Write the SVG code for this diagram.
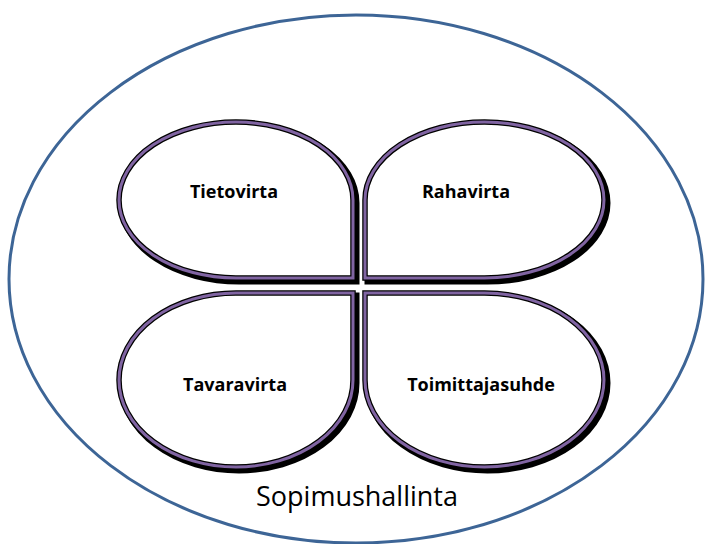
<svg xmlns="http://www.w3.org/2000/svg" width="706" height="544" viewBox="0 0 706 544">
<style>
.sh{fill:none;stroke:#000;stroke-width:7;stroke-linejoin:miter}
.ol{fill:#fff;stroke:#000;stroke-width:5.5;stroke-linejoin:miter}
.pl{fill:none;stroke:#8064a2;stroke-width:3;stroke-linejoin:miter}
.lb{font-family:"Open Sans","Liberation Sans",sans-serif;font-weight:bold;font-size:18px;fill:#000;text-anchor:middle}
.big{font-family:"Open Sans","Liberation Sans",sans-serif;font-size:27px;fill:#000;text-anchor:middle}
</style>
<defs>
<path id="p1" d="M353,200 A117,78 0 0 0 236,122 A117,78 0 0 0 119,200 A117,78 0 0 0 236,278 L353,278 Z"/>
<path id="p2" d="M365,278 L365,200 A119.5,78 0 0 1 484.5,122 A119.5,78 0 0 1 604,200 A119.5,78 0 0 1 484.5,278 Z"/>
<path id="p3" d="M353,293 L353,380 A117,87 0 0 1 236,467 A117,87 0 0 1 119,380 A117,87 0 0 1 236,293 Z"/>
<path id="p4" d="M365,293 L484.5,293 A119.5,87 0 0 1 604,380 A119.5,87 0 0 1 484.5,467 A119.5,87 0 0 1 365,380 Z"/>
</defs>
<rect width="706" height="544" fill="#fff"/>
<g id="outer">
<ellipse cx="356" cy="279" rx="347" ry="264" fill="none" stroke="#3d6596" stroke-width="3"/>
<text class="big" x="357" y="506">Sopimushallinta</text>
</g>
<g id="tietovirta">
<use href="#p1" class="sh" transform="translate(3,3)"/><use href="#p1" class="ol"/><use href="#p1" class="pl"/>
<text class="lb" x="234" y="198">Tietovirta</text>
</g>
<g id="rahavirta">
<use href="#p2" class="sh" transform="translate(3,3)"/><use href="#p2" class="ol"/><use href="#p2" class="pl"/>
<text class="lb" x="466" y="198">Rahavirta</text>
</g>
<g id="tavaravirta">
<use href="#p3" class="sh" transform="translate(3,3)"/><use href="#p3" class="ol"/><use href="#p3" class="pl"/>
<text class="lb" x="235" y="391">Tavaravirta</text>
</g>
<g id="toimittajasuhde">
<use href="#p4" class="sh" transform="translate(3,3)"/><use href="#p4" class="ol"/><use href="#p4" class="pl"/>
<text class="lb" x="481" y="391">Toimittajasuhde</text>
</g>
<g id="connectors"/>
</svg>
